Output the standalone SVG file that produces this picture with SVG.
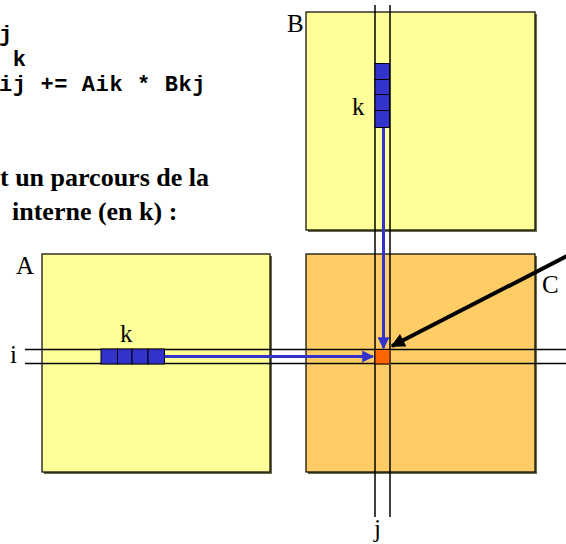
<svg xmlns="http://www.w3.org/2000/svg" width="566" height="544" viewBox="0 0 566 544">
<style>
.code{font-family:"Liberation Mono","Courier New",monospace;font-weight:bold;font-size:22px;letter-spacing:0.6px;fill:#000}
.fr{font-family:"Liberation Serif","Times New Roman",serif;font-weight:bold;font-size:26px;fill:#000}
.lbl{font-family:"Liberation Serif","Times New Roman",serif;font-size:25px;fill:#000}
.sh{fill:#6b6b4a}
.mat{stroke:#000;stroke-width:1.2}
.yel{fill:#FFFF99}
.org{fill:#FFCC66}
.blk{fill:#3333CC;stroke:#000;stroke-width:1}
.ln{stroke:#000;stroke-width:1.5;fill:none}
.blue{stroke:#3333CC;stroke-width:3;fill:none}
</style>
<defs>
<marker id="ab" viewBox="0 0 10 10" refX="9" refY="5" markerWidth="4" markerHeight="4" orient="auto" markerUnits="strokeWidth">
<path d="M0,0 L10,5 L0,10 z" fill="#3333CC"/>
</marker>
<marker id="ak" viewBox="0 0 10 10" refX="9" refY="5" markerWidth="4" markerHeight="3.5" orient="auto" markerUnits="strokeWidth">
<path d="M0,0 L10,5 L0,10 z" fill="#000"/>
</marker>
</defs>
<rect width="566" height="544" fill="#fff"/>
<g id="code">
<text class="code" x="-1" y="41">j</text>
<text class="code" x="12.8" y="66">k</text>
<text class="code" x="-1" y="91">ij += Aik * Bkj</text>
</g>
<g id="note">
<text class="fr" x="0" y="186">t un parcours de la</text>
<text class="fr" x="12" y="220">interne (en k) :</text>
</g>
<g id="matB">
<rect class="sh" x="308" y="14" width="229" height="218"/>
<rect class="mat yel" x="306" y="12" width="229" height="218"/>
<text class="lbl" x="287" y="32">B</text>
</g>
<g id="matA">
<rect class="sh" x="44" y="256" width="228" height="218"/>
<rect class="mat yel" x="42" y="254" width="228" height="218"/>
<text class="lbl" x="16" y="274">A</text>
</g>
<g id="matC">
<rect class="sh" x="308" y="256" width="229" height="218"/>
<rect class="mat org" x="306" y="254" width="229" height="218"/>
<text class="lbl" x="542" y="293">C</text>
</g>
<g id="guides">
<line class="ln" x1="375" y1="5" x2="375" y2="517"/>
<line class="ln" x1="390" y1="5" x2="390" y2="517"/>
<line class="ln" x1="25" y1="349.5" x2="566" y2="349.5"/>
<line class="ln" x1="25" y1="363.5" x2="566" y2="363.5"/>
<text class="lbl" x="374" y="537">j</text>
<text class="lbl" x="10" y="363">i</text>
</g>
<g id="colB">
<rect class="blk" x="375" y="63.5" width="14.5" height="16"/>
<rect class="blk" x="375" y="79.5" width="14.5" height="15"/>
<rect class="blk" x="375" y="94.5" width="14.5" height="16"/>
<rect class="blk" x="375" y="110.5" width="14.5" height="17"/>
<text class="lbl" x="352" y="115">k</text>
</g>
<g id="rowA">
<rect class="blk" x="101" y="349" width="16.5" height="15"/>
<rect class="blk" x="117.5" y="349" width="14.5" height="15"/>
<rect class="blk" x="132" y="349" width="16" height="15"/>
<rect class="blk" x="148" y="349" width="16.5" height="15"/>
<text class="lbl" x="120" y="342">k</text>
</g>
<g id="cellC">
<rect x="376" y="350" width="15" height="15" fill="#FFAA55" opacity="0.6"/>
<rect x="375" y="349.5" width="15" height="14.5" fill="#FF6600" stroke="#000" stroke-width="1"/>
</g>
<g id="connectors">
<line class="blue" x1="383.5" y1="128" x2="383.5" y2="348" marker-end="url(#ab)"/>
<line class="blue" x1="164.5" y1="356.5" x2="373" y2="356.5" marker-end="url(#ab)"/>
<line x1="572" y1="253.5" x2="392" y2="346" stroke="#000" stroke-width="4" marker-end="url(#ak)"/>
</g>
</svg>
